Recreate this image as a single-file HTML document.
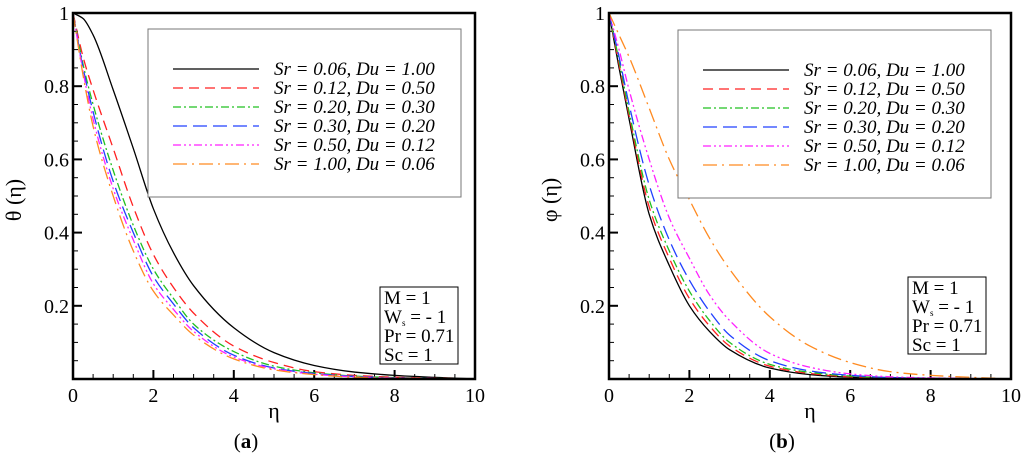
<!DOCTYPE html>
<html><head><meta charset="utf-8"><style>
body{margin:0;background:#fff;}
svg{display:block;}
text{font-family:"Liberation Serif","Times New Roman","DejaVu Serif",serif;}
</style></head><body>
<svg id="fig" width="1024" height="456" viewBox="0 0 1024 456" font-family="Liberation Serif, serif"></svg>
<script>
const xs = [0,0.25,0.5,1,1.5,2,2.5,3,4,5,6,7,8,10];
const labels = ["Sr = 0.06, Du = 1.00","Sr = 0.12, Du = 0.50","Sr = 0.20, Du = 0.30","Sr = 0.30, Du = 0.20","Sr = 0.50, Du = 0.12","Sr = 1.00, Du = 0.06"];
const thetaBlack   = [1,0.985,0.94,0.79,0.63,0.465,0.345,0.255,0.14,0.072,0.037,0.019,0.01,0];
const thetaRed     = [1,0.88,0.79,0.63,0.47,0.34,0.25,0.18,0.09,0.045,0.02,0.01,0.005,0];
const thetaGreen   = [1,0.86,0.75,0.57,0.42,0.30,0.22,0.15,0.075,0.035,0.017,0.008,0.004,0];
const thetaBlue    = [1,0.85,0.73,0.54,0.40,0.28,0.205,0.14,0.065,0.03,0.015,0.007,0.003,0];
const thetaMagenta = [1,0.84,0.71,0.52,0.38,0.26,0.19,0.13,0.06,0.028,0.013,0.006,0.003,0];
const thetaOrange  = [1,0.83,0.69,0.50,0.35,0.24,0.175,0.12,0.055,0.025,0.012,0.005,0.002,0];
const phiBlack   = [1,0.85,0.71,0.45,0.31,0.20,0.13,0.08,0.03,0.012,0.005,0.002,0.001,0];
const phiRed     = [1,0.86,0.72,0.47,0.33,0.22,0.145,0.09,0.035,0.015,0.006,0.003,0.001,0];
const phiGreen   = [1,0.87,0.73,0.49,0.35,0.24,0.16,0.10,0.04,0.018,0.008,0.003,0.001,0];
const phiBlue    = [1,0.88,0.75,0.53,0.38,0.27,0.185,0.12,0.05,0.022,0.01,0.004,0.002,0];
const phiMagenta = [1,0.90,0.79,0.60,0.44,0.33,0.23,0.16,0.07,0.032,0.014,0.006,0.003,0];
const phiOrange  = [1,0.94,0.88,0.74,0.60,0.49,0.385,0.30,0.17,0.09,0.045,0.02,0.01,0];
const xTicks = [0,2,4,6,8,10];
const yTicks = [0.2,0.4,0.6,0.8,1];
const yTickLabels = ["0.2","0.4","0.6","0.8","1"];

const styles = [
 {c:"#000000",d:""},
 {c:"#ff2020",d:"10,6"},
 {c:"#20c020",d:"8,3,2,3"},
 {c:"#2040ff",d:"14,6"},
 {c:"#ff20ff",d:"8,3,2,3,2,3"},
 {c:"#ff8a20",d:"14,5,2,5"}
];
const NS="http://www.w3.org/2000/svg";
const svg=document.getElementById('fig');
function mk(tag,attrs,parent){const e=document.createElementNS(NS,tag);for(const k in attrs)e.setAttribute(k,attrs[k]);(parent||svg).appendChild(e);return e;}

function monotonePath(pts){
 const n=pts.length,dx=[],s=[],m=[];
 for(let i=0;i<n-1;i++){dx[i]=pts[i+1][0]-pts[i][0];s[i]=(pts[i+1][1]-pts[i][1])/dx[i];}
 m[0]=s[0];m[n-1]=s[n-2];
 for(let i=1;i<n-1;i++){m[i]=(s[i-1]*s[i]<=0)?0:(dx[i-1]+dx[i])*3/((2*dx[i]+dx[i-1])/s[i-1]+(dx[i]+2*dx[i-1])/s[i]);}
 let d='M'+pts[0][0]+','+pts[0][1];
 for(let i=0;i<n-1;i++){
  const h=dx[i]/3;
  d+=` C${pts[i][0]+h},${pts[i][1]+m[i]*h} ${pts[i+1][0]-h},${pts[i+1][1]-m[i+1]*h} ${pts[i+1][0]},${pts[i+1][1]}`;
 }
 return d;
}

function panel(cfg){
 const g=mk('g',{});
 
 
 const X=v=>cfg.x0+(cfg.x1-cfg.x0)*v/10;
 const Y=v=>379-(379-13)*v;
 for(let v=0;v<=10.001;v+=0.5){
  const major=Math.abs(v/2-Math.round(v/2))<1e-6;
  const t=mk('line',{x1:X(v),x2:X(v),y1:379,y2:379-(major?9:5),stroke:'#000','stroke-width':major?2:1},g);
  
  
 }
 for(let v=0.05;v<1.001;v+=0.05){
  const major=Math.abs(v*5-Math.round(v*5))<1e-6;
  const t=mk('line',{x1:cfg.x0,x2:cfg.x0+(major?9:5),y1:Y(v),y2:Y(v),stroke:'#000','stroke-width':major?2:1},g);
  
  
 }
 xTicks.forEach(v=>{
  const t=mk('text',{x:X(v),y:402,'font-size':20,'text-anchor':'middle'},g);t.textContent=v;
  
  
 });
 yTicks.forEach((v,i)=>{
  const t=mk('text',{x:cfg.x0-4,y:Y(v)+7,'font-size':20,'text-anchor':'end'},g);t.textContent=yTickLabels[i];
  
  
 });
 const cp=mk('clipPath',{id:'clip'+cfg.name},g);
 mk('rect',{x:cfg.x0,y:13,width:cfg.x1-cfg.x0,height:366},cp);
 cfg.series.forEach((ys,i)=>{
  const pts=xs.map((x,j)=>[X(x),Y(ys[j])]);
  const p=mk('path',{d:monotonePath(pts),fill:'none',stroke:styles[i].c,'stroke-width':1.3,'stroke-dasharray':styles[i].d,'clip-path':`url(#clip${cfg.name})`},g);
  
  
 });
 const fr=mk('rect',{x:cfg.x0,y:13,width:cfg.x1-cfg.x0,height:366,fill:'none',stroke:'#000','stroke-width':2.5},g);
 
 
 const lg=mk('g',{},g);
 
 
 mk('rect',{x:cfg.lx,y:cfg.ly,width:313,height:168,fill:'#fff',stroke:'#777','stroke-width':1},lg);
 labels.forEach((l,i)=>{
  const yy=cfg.ly+40+i*19;
  const ln=mk('line',{x1:cfg.lx+25,x2:cfg.lx+111,y1:yy,y2:yy,stroke:styles[i].c,'stroke-width':1.3,'stroke-dasharray':styles[i].d},lg);
  
  
  const t=mk('text',{x:cfg.lx+126,y:yy+6,'font-size':19,'font-style':'italic'},lg);t.textContent=l;
  
  
 });
 const ib=mk('g',{},g);
 
 
 mk('rect',{x:cfg.ix,y:cfg.iy,width:78,height:77,fill:'#fff',stroke:'#000','stroke-width':1},ib);
 const lines=['M = 1','W','Pr = 0.71','Sc = 1'];
 lines.forEach((l,i)=>{
  const t=mk('text',{x:cfg.ix+4,y:cfg.iy+17+i*19,'font-size':19},ib);
  if(i===1){t.innerHTML='W<tspan font-size="9" dy="3">s</tspan><tspan dy="-3"> = - 1</tspan>';}
  else t.textContent=l;
  
  
 });
 const xt=mk('text',{x:(cfg.x0+cfg.x1)/2,y:418,'font-size':22,'text-anchor':'middle'},g);xt.textContent='η';
 
 
 const yt=mk('text',{x:0,y:0,'font-size':22,'text-anchor':'middle',transform:`translate(${cfg.x0-52},200) rotate(-90)`},g);yt.textContent=cfg.ylab;
 
 
 const cap=mk('text',{x:cfg.capx,y:448,'font-size':21,'text-anchor':'middle'},g);
 cap.innerHTML='(<tspan font-weight="bold">'+cfg.cap+'</tspan>)';
 
 
}
panel({name:'panel-a',x0:73,x1:475,lx:148,ly:29,ix:380,iy:287,ylab:'θ (η)',cap:'a',capx:246,
 series:[thetaBlack,thetaRed,thetaGreen,thetaBlue,thetaMagenta,thetaOrange]});
panel({name:'panel-b',x0:609,x1:1011,lx:678,ly:30,ix:908,iy:277,ylab:'φ (η)',cap:'b',capx:782,
 series:[phiBlack,phiRed,phiGreen,phiBlue,phiMagenta,phiOrange]});
</script>
</body></html>
